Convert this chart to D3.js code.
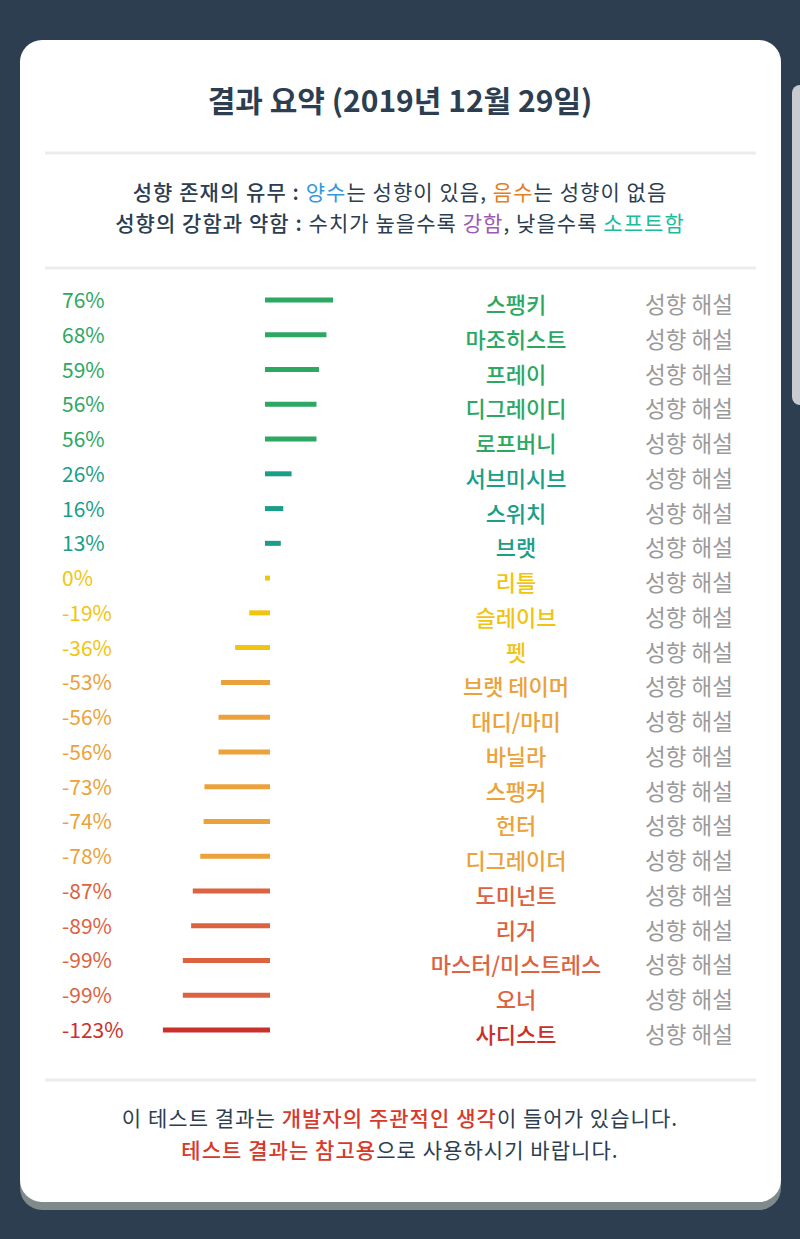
<!DOCTYPE html>
<html>
<head>
<meta charset="utf-8">
<script src="https://cdn.jsdelivr.net/npm/d3@7"></script>
<style>
  html, body { margin: 0; padding: 0; background: #2c3e50; }
  svg { display: block; }
  text { font-family: "Noto Sans CJK KR", "Noto Sans", sans-serif; }
</style>
</head>
<body>
<svg id="chart" width="800" height="1239"></svg>
<script>
// ---- data ----
const titleText = "결과 요약 (2019년 12월 29일)";
const categories = ["스팽키","마조히스트","프레이","디그레이디","로프버니","서브미시브","스위치","브랫","리틀","슬레이브","펫","브랫 테이머","대디/마미","바닐라","스팽커","헌터","디그레이더","도미넌트","리거","마스터/미스트레스","오너","사디스트"];
const values = [76,68,59,56,56,26,16,13,0,-19,-36,-53,-56,-56,-73,-74,-78,-87,-89,-99,-99,-123];
const linkLabel = "성향 해설";
const subtitle1 = [["성향 존재의 유무 : ","label"],["양수","pos"],["는 성향이 있음, ","plain"],["음수","neg"],["는 성향이 없음","plain"]];
const subtitle2 = [["성향의 강함과 약함 : ","label"],["수치가 높을수록 ","plain"],["강함","strong"],[", 낮을수록 ","plain"],["소프트함","soft"]];
const footer1 = [["이 테스트 결과는 ","plain"],["개발자의 주관적인 생각","red"],["이 들어가 있습니다.","plain"]];
const footer2 = [["테스트 결과는 참고용","red"],["으로 사용하시기 바랍니다.","plain"]];

// ---- styles ----
const segColor = {label:"#2c3e50", plain:"#2c3e50", pos:"#3498db", neg:"#e67e22", strong:"#9b59b6", soft:"#1abc9c", red:"#d63a2a"};
const segWeight = {label:500, plain:400, pos:400, neg:400, strong:400, soft:400, red:500};
const color = d3.scaleThreshold()
  .domain([-100, -80, -50, 10, 50])
  .range(["#c9302c", "#dc6240", "#eba23a", "#f1c40f", "#1a9e88", "#2ca863"]);

const svg = d3.select("#chart");

// card shadow + card
svg.append("rect").attr("x",20).attr("y",48).attr("width",761).attr("height",1162).attr("rx",22).attr("fill","#7f8a8d");
svg.append("rect").attr("x",20).attr("y",40).attr("width",761).attr("height",1162).attr("rx",22).attr("fill","#ffffff");
// scrollbar
svg.append("rect").attr("x",792).attr("y",85).attr("width",20).attr("height",320).attr("rx",8).attr("fill","#c8ccd1");

// title
svg.append("text").attr("x",400).attr("y",99).attr("text-anchor","middle").attr("dominant-baseline","central")
  .attr("font-size",30).attr("font-weight",700).attr("fill","#2c3e50").text(titleText);

// dividers
[153, 268, 1080].forEach(y => {
  svg.append("line").attr("x1",45).attr("x2",756).attr("y1",y).attr("y2",y).attr("stroke","#ececec").attr("stroke-width",3);
});

function richLine(segs, y) {
  const t = svg.append("text").attr("x",400).attr("y",y).attr("text-anchor","middle").attr("dominant-baseline","central")
    .attr("font-size",21).attr("letter-spacing",1.05);
  segs.forEach(([s,k]) => t.append("tspan").attr("fill",segColor[k]).attr("font-weight",segWeight[k]).text(s));
}
richLine(subtitle1, 191);
richLine(subtitle2, 222);
richLine(footer1, 1117);
richLine(footer2, 1149);

// scales
const y = d3.scalePoint().domain(d3.range(categories.length)).range([300, 1030]);
const x = d3.scaleLinear().domain([-123, 76]).range([267.5 - 123*0.83, 267.5 + 76*0.83]);

const rows = svg.append("g").selectAll("g").data(values).join("g")
  .attr("transform", (d,i) => `translate(0,${y(i)})`);

rows.append("line")
  .attr("x1", x(0)).attr("x2", d => x(d))
  .attr("y1", 0).attr("y2", 0)
  .attr("stroke", d => color(d)).attr("stroke-width", 5).attr("stroke-linecap","square");

rows.append("text")
  .attr("x", 62).attr("y", -1).attr("dominant-baseline","central")
  .attr("font-family","Roboto, sans-serif").attr("font-size",21)
  .attr("fill", d => color(d)).text(d => `${d}%`);

rows.append("text")
  .attr("x", 516).attr("y", 3).attr("text-anchor","middle").attr("dominant-baseline","central")
  .attr("font-size",22).attr("font-weight",500)
  .attr("fill", d => color(d)).text((d,i) => categories[i]);

rows.append("text")
  .attr("x", 689).attr("y", 3).attr("text-anchor","middle").attr("dominant-baseline","central")
  .attr("font-size",22.5).attr("fill","#9a9a9a").text(linkLabel);
</script>
</body>
</html>
